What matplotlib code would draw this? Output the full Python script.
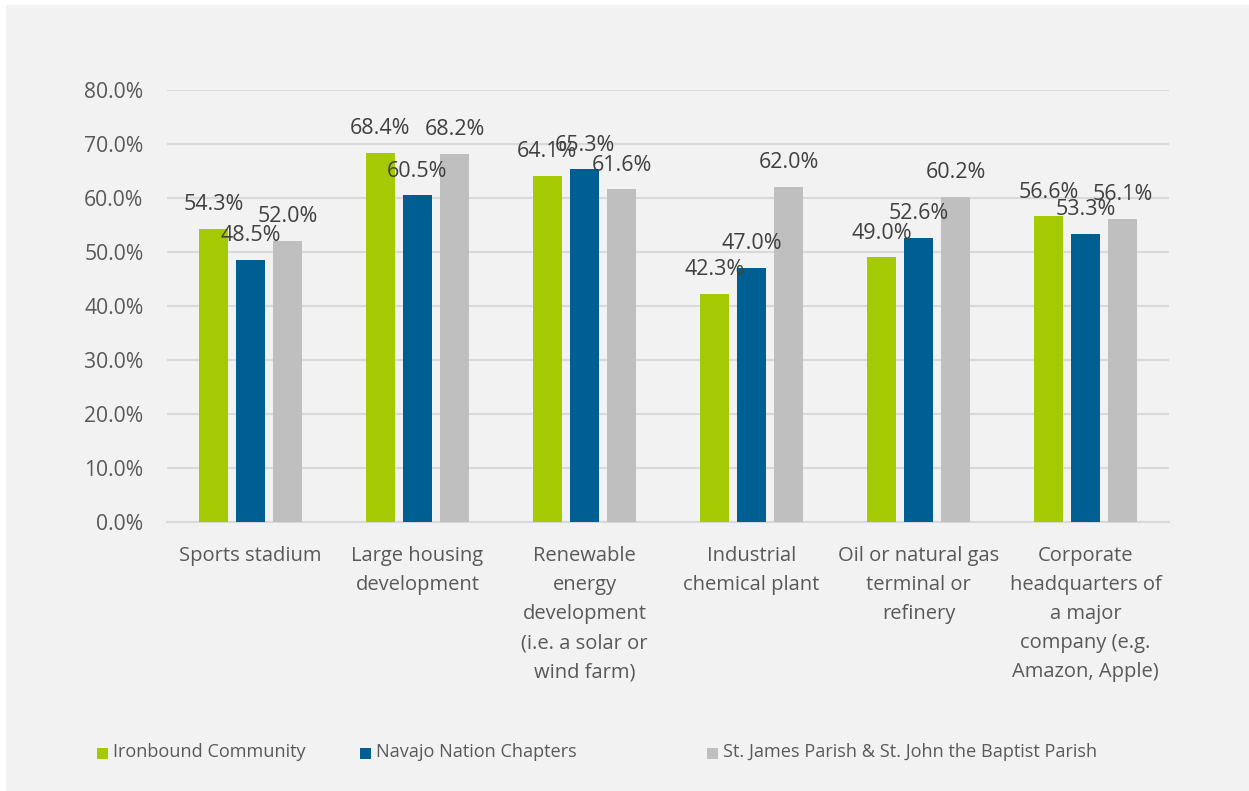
import matplotlib
matplotlib.use("Agg")
import matplotlib.pyplot as plt
import numpy as np
from matplotlib.patches import Rectangle
from matplotlib.ticker import FuncFormatter

plt.rcParams['font.family'] = ['Open Sans', 'DejaVu Sans']

# dados
categorias = ["Sports stadium",
              "Large housing\ndevelopment",
              "Renewable\nenergy\ndevelopment\n(i.e. a solar or\nwind farm)",
              "Industrial\nchemical plant",
              "Oil or natural gas\nterminal or\nrefinery",
              "Corporate\nheadquarters of\na major\ncompany (e.g.\nAmazon, Apple)"]
series = ["Ironbound Community",
          "Navajo Nation Chapters",
          "St. James Parish & St. John the Baptist Parish"]
ironbound = [54.3, 68.4, 64.1, 42.3, 49.0, 56.6]
navajo = [48.5, 60.5, 65.3, 47.0, 52.6, 53.3]
st_james = [52.0, 68.2, 61.6, 62.0, 60.2, 56.1]
yticks = [0, 10, 20, 30, 40, 50, 60, 70, 80]

cores = ["#A5C903", "#005F92", "#BFBFBF"]

fig = plt.figure(figsize=(12.49, 7.91), dpi=100)
fig.patch.set_facecolor("white")
# painel cinza de fundo
fig.patches.append(Rectangle((6 / 1249, 0), 1 - 6 / 1249, 1 - 5 / 791,
                             transform=fig.transFigure, facecolor="#F2F2F2",
                             edgecolor="none", zorder=-10))

ax = fig.add_axes([167 / 1249, 1 - 522 / 791, (1169 - 167) / 1249, (522 - 90) / 791])
ax.set_facecolor("none")

x = np.arange(len(categorias))
largura = 0.174
passo = 0.222
for i, (nome, vals) in enumerate(zip(series, [ironbound, navajo, st_james])):
    pos = x + (i - 1) * passo
    ax.bar(pos, vals, width=largura, color=cores[i], zorder=3)
    for xp, v in zip(pos, vals):
        ax.annotate(f"{v:.1f}%", (xp, v), xytext=(0, 13.5), textcoords="offset points",
                    ha="center", va="baseline", fontsize=15.5, color="#404040", zorder=4)

ax.set_xlim(-0.5, len(categorias) - 0.5)
ax.set_ylim(0, 80)
ax.set_yticks(yticks)
ax.yaxis.set_major_formatter(FuncFormatter(lambda v, p: f"{v:.1f}%"))
ax.set_xticks(x)
ax.set_xticklabels(categorias, linespacing=1.61)
ax.tick_params(axis="y", length=0, pad=17, labelsize=15.2, labelcolor="#595959")
ax.tick_params(axis="x", length=0, pad=17, labelsize=14.5, labelcolor="#595959")
ax.grid(axis="y", color="#D9D9D9", linewidth=1.5, zorder=0)
for lado in ["top", "right", "left"]:
    ax.spines[lado].set_visible(False)
ax.spines["bottom"].set_color("#D9D9D9")
ax.spines["bottom"].set_linewidth(1.5)

# legenda manual
leg_x = [97, 360, 707]
leg_y = 753
for xi, nome, cor in zip(leg_x, series, cores):
    fig.patches.append(Rectangle((xi / 1249, 1 - (leg_y + 6) / 791), 11 / 1249, 11 / 791,
                                 transform=fig.transFigure, facecolor=cor, edgecolor="none"))
    fig.text((xi + 16) / 1249, 1 - (leg_y - 1) / 791, nome, fontsize=13.1, color="#595959",
             ha="left", va="center")

plt.savefig("out.png", dpi=100)
